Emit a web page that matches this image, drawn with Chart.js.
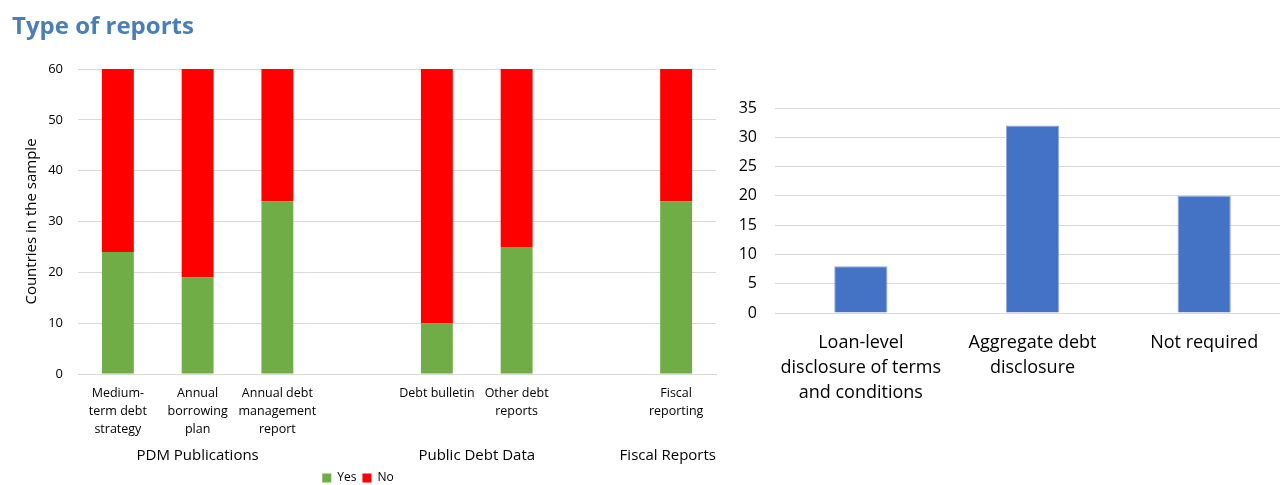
<!DOCTYPE html>
<html>
<head>
<meta charset="utf-8">
<script src="https://cdn.jsdelivr.net/npm/chart.js@4"></script>
<style>
  body { margin: 0; width: 1280px; height: 485px; overflow: hidden; background: #fff; position: relative; font-family: "Open Sans", sans-serif; }
  #title { position: absolute; left: 12px; top: 8px; font-size: 24px; font-weight: bold; color: #4a7fb5; }
  #wrap1 { position: absolute; left: 0; top: 0; width: 722px; height: 494px; }
  #wrap2 { position: absolute; left: 720px; top: 0; width: 580px; height: 485px; }
</style>
</head>
<body>
<div id="wrap1"><canvas id="chart1"></canvas></div>
<div id="wrap2"><canvas id="chart2"></canvas></div>
<div id="title">Type of reports</div>
<script>
// Left chart: reports published (empty slots separate the groups)
const reportLabels = [
    ["Medium-", "term debt", "strategy"],
    ["Annual", "borrowing", "plan"],
    ["Annual debt", "management", "report"],
    "",
    "Debt bulletin",
    ["Other debt", "reports"],
    "",
    ["Fiscal", "reporting"]
];
const yesValues = [24, 19, 34, null, 10, 25, null, 34];
const noValues = [36, 41, 26, null, 50, 35, null, 26];
const groupNames = ["PDM Publications", "Public Debt Data", "Fiscal Reports"];
const groupStart = [0, 4, 7];
const groupEnd = [2, 5, 7];

// Right chart: disclosure requirements
const disclosureLabels = [
    ["Loan-level", "disclosure of terms", "and conditions"],
    ["Aggregate debt", "disclosure"],
    "Not required"
];
const disclosureValues = [8, 32, 20];

Chart.defaults.font.family = '"Open Sans", sans-serif';
Chart.defaults.color = '#000';
Chart.defaults.animation = false;

const groupLabelPlugin = {
    id: 'groupLabels',
    afterDraw(chart) {
        const ctx = chart.ctx;
        const x = chart.scales.x;
        ctx.save();
        ctx.font = '15px "Open Sans", sans-serif';
        ctx.fillStyle = '#000';
        ctx.textAlign = 'center';
        ctx.textBaseline = 'middle';
        groupNames.forEach((name, i) => {
            let cx = (x.getPixelForValue(groupStart[i]) + x.getPixelForValue(groupEnd[i])) / 2;
            const w = ctx.measureText(name).width;
            if (cx + w / 2 > chart.chartArea.right) cx = chart.chartArea.right - w / 2;
            ctx.fillText(name, cx, 456);
        });
        ctx.restore();
    }
};

new Chart(document.getElementById("chart1"), {
    type: 'bar',
    data: {
        labels: reportLabels,
        datasets: [
            { label: "Yes", data: yesValues, backgroundColor: "#70ad47", barPercentage: 0.4, categoryPercentage: 1 },
            { label: "No", data: noValues, backgroundColor: "#ff0000", barPercentage: 0.4, categoryPercentage: 1 }
        ]
    },
    options: {
        responsive: true,
        maintainAspectRatio: false,
        layout: { padding: { top: 69, right: 6, left: 0, bottom: 0 } },
        plugins: {
            legend: {
                position: 'bottom',
                labels: { boxWidth: 9, boxHeight: 9, padding: 6, font: { size: 12 } }
            },
            tooltip: { enabled: false }
        },
        scales: {
            x: {
                stacked: true,
                grid: { display: false },
                border: { color: '#d9d9d9' },
                ticks: { font: { size: 12.5, lineHeight: 1.45 }, padding: 2, maxRotation: 0, autoSkip: false },
                afterFit(s) { s.height = 92; }
            },
            y: {
                stacked: true,
                min: 0, max: 60,
                ticks: { stepSize: 10, font: { size: 13 }, padding: 15 },
                grid: { color: '#d9d9d9', drawTicks: false },
                border: { display: false },
                title: { display: true, text: "Countries in the sample", font: { size: 15 }, padding: { top: 23, bottom: 0 } },
                afterFit(s) { s.width = 78; }
            }
        }
    },
    plugins: [groupLabelPlugin]
});

new Chart(document.getElementById("chart2"), {
    type: 'bar',
    data: {
        labels: disclosureLabels,
        datasets: [{
            label: "Countries",
            data: disclosureValues,
            backgroundColor: "#4472c4",
            borderColor: "#8eaadc",
            borderWidth: 1,
            barPercentage: 0.31,
            categoryPercentage: 1
        }]
    },
    options: {
        responsive: true,
        maintainAspectRatio: false,
        layout: { padding: { top: 108, right: 10, left: 0, bottom: 0 } },
        plugins: {
            legend: { display: false },
            tooltip: { enabled: false }
        },
        scales: {
            x: {
                grid: { display: false },
                border: { color: '#d9d9d9' },
                ticks: { font: { size: 18, lineHeight: 1.4 }, padding: 9, maxRotation: 0, autoSkip: false },
                afterFit(s) { s.height = 172; }
            },
            y: {
                min: 0, max: 35,
                ticks: { stepSize: 5, font: { size: 16 }, padding: 18 },
                grid: { color: '#d9d9d9', drawTicks: false },
                border: { display: false },
                afterFit(s) { s.width = 55; }
            }
        }
    }
});
</script>
</body>
</html>
